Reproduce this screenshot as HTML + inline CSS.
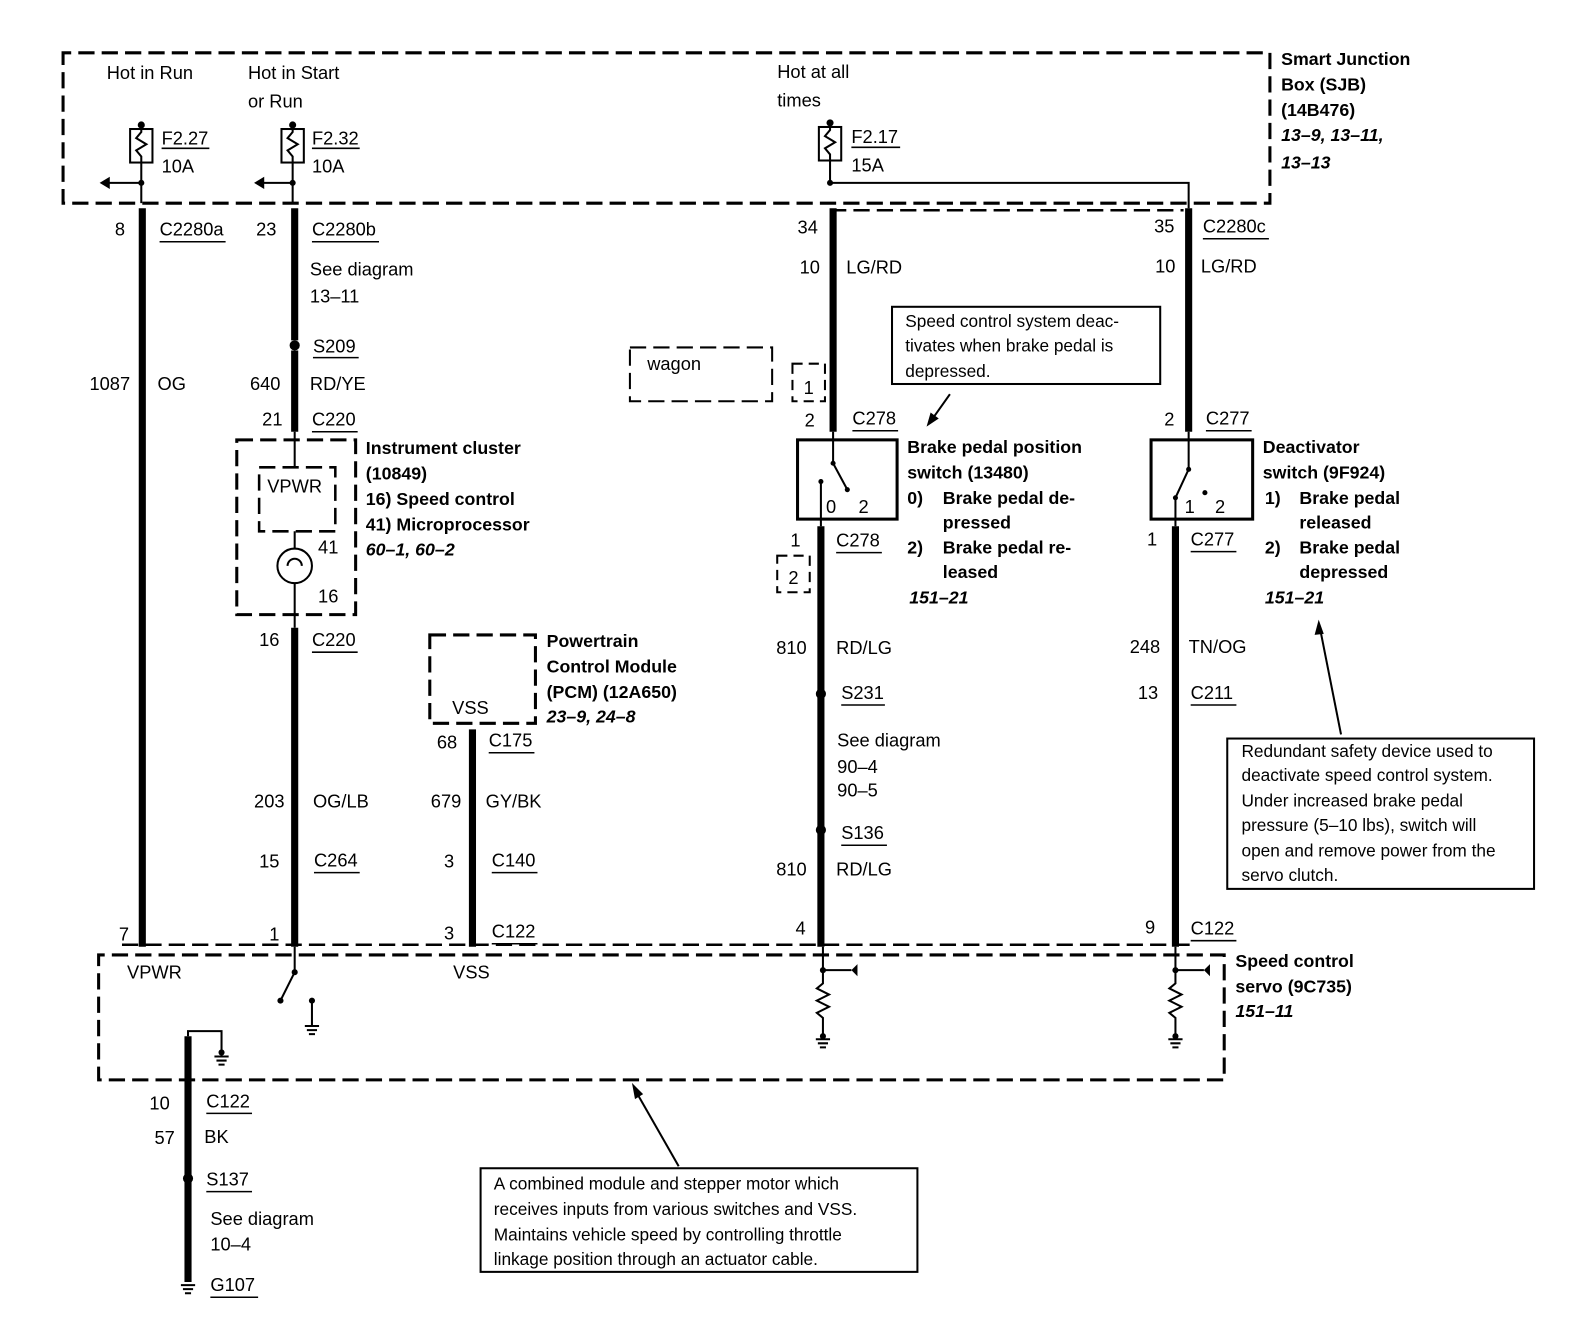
<!DOCTYPE html>
<html><head><meta charset="utf-8"><style>
html,body{margin:0;padding:0;background:#fff;}
svg{display:block}
text{font-family:"Liberation Sans",sans-serif;font-size:18px;fill:#000}
.b{font-weight:bold;font-size:17.5px}
.bi{font-weight:bold;font-style:italic;font-size:17.5px}
.d{fill:none;stroke:#000;stroke-width:3;stroke-dasharray:16 7}
.w{stroke:#000;stroke-width:7;fill:none}
.t{stroke:#000;stroke-width:2;fill:none}
.u{stroke:#000;stroke-width:1.5}
</style></head><body>
<svg width="1590" height="1344" viewBox="0 0 1565 1323" xmlns="http://www.w3.org/2000/svg">
<!-- SJB box -->
<path class="d" d="M62 60 L62 52 L1250 52 L1250 200 L62 200 Z"/>
<text x="105" y="78">Hot in Run</text>
<text x="244" y="78">Hot in Start</text>
<text x="244" y="106">or Run</text>
<text x="765" y="77">Hot at all</text>
<text x="765" y="105">times</text>
<text class="b" x="1261" y="64">Smart Junction</text>
<text class="b" x="1261" y="89">Box (SJB)</text>
<text class="b" x="1261" y="114">(14B476)</text>
<text class="bi" x="1261" y="139">13–9, 13–11,</text>
<text class="bi" x="1261" y="166">13–13</text>
<!-- fuses -->
<g class="t">
<rect x="128" y="127" width="22" height="33"/><path d="M139 122 V130 l-5 6 l10 6 l-10 6 l5 6 V200"/>
<rect x="277" y="127" width="22" height="33"/><path d="M288 122 V130 l-5 6 l10 6 l-10 6 l5 6 V200"/>
<rect x="806" y="125" width="22" height="33"/><path d="M817 120 V128 l-5 6 l10 6 l-10 6 l5 6 V180 H1170 V205"/>
<path d="M139 180 H104"/><path d="M288 180 H256"/>
</g>
<circle cx="139" cy="123" r="3.5"/><circle cx="288" cy="123" r="3.5"/><circle cx="817" cy="121" r="3.5"/>
<circle cx="139" cy="180" r="3"/><circle cx="288" cy="180" r="3"/><circle cx="817" cy="180" r="3"/>
<path d="M98 180 l10 -6 v12z"/><path d="M250 180 l10 -6 v12z"/>
<text x="159" y="142">F2.27</text><text x="159" y="170">10A</text>
<text x="307" y="142">F2.32</text><text x="307" y="170">10A</text>
<text x="838" y="141">F2.17</text><text x="838" y="169">15A</text>
<path class="u" d="M159 146h47M307 146h47M838 145h48"/>
<!-- dashed connector line under SJB right -->
<path class="d" d="M817 207 H1165" style="stroke-width:2.5"/>
<!-- wires -->
<path class="w" d="M140 205 V932"/>
<path class="w" d="M290 205 V335 M290 345 V425"/>
<path class="w" d="M290 618 V932"/>
<path class="w" d="M465 718 V932"/>
<path class="w" d="M820 205 V425"/>
<path class="w" d="M808 518 V932"/>
<path class="w" d="M1170 205 V425"/>
<path class="w" d="M1157 518 V932"/>
<path class="w" d="M185 1020 V1262"/>
<!-- splice dots -->
<circle cx="290" cy="340" r="5"/><circle cx="808" cy="683" r="5"/><circle cx="808" cy="817" r="5"/><circle cx="185" cy="1160" r="5"/>
<!-- labels left -->
<text x="113" y="232">8</text><text x="157" y="232">C2280a</text><path class="u" d="M157 238h65"/>
<text x="252" y="232">23</text><text x="307" y="232">C2280b</text><path class="u" d="M307 238h66"/>
<text x="305" y="271">See diagram</text><text x="305" y="298">13–11</text>
<text x="308" y="347">S209</text><path class="u" d="M308 352h45"/>
<text x="88" y="384">1087</text><text x="155" y="384">OG</text>
<text x="246" y="384">640</text><text x="305" y="384">RD/YE</text>
<text x="258" y="419">21</text><text x="307" y="419">C220</text><path class="u" d="M307 425h45"/>
<!-- instrument cluster -->
<path class="d" d="M233 433 H350 V605 H233 Z"/>
<path class="d" d="M255 460 H330 V523 H255 Z" style="stroke-width:2.5"/>
<text x="263" y="485">VPWR</text>
<path class="t" d="M290 425 V460 M290 523 V540 M290 574 V618"/>
<circle cx="290" cy="557" r="17" class="t"/>
<path class="t" d="M283 557 a7 7 0 1 1 14 0" />
<text x="313" y="545">41</text><text x="313" y="593">16</text>
<text class="b" x="360" y="447">Instrument cluster</text>
<text class="b" x="360" y="472">(10849)</text>
<text class="b" x="360" y="497">16) Speed control</text>
<text class="b" x="360" y="522">41) Microprocessor</text>
<text class="bi" x="360" y="547">60–1, 60–2</text>
<text x="255" y="636">16</text><text x="307" y="636">C220</text><path class="u" d="M307 642h45"/>
<!-- PCM -->
<path class="d" d="M423 625 H527 V712 H423 Z"/>
<text x="445" y="703">VSS</text>
<text class="b" x="538" y="637">Powertrain</text>
<text class="b" x="538" y="662">Control Module</text>
<text class="b" x="538" y="687">(PCM) (12A650)</text>
<text class="bi" x="538" y="711">23–9, 24–8</text>
<text x="430" y="737">68</text><text x="481" y="735">C175</text><path class="u" d="M481 741h45"/>
<text x="250" y="795">203</text><text x="308" y="795">OG/LB</text>
<text x="424" y="795">679</text><text x="478" y="795">GY/BK</text>
<text x="255" y="854">15</text><text x="309" y="853">C264</text><path class="u" d="M309 859h45"/>
<text x="437" y="854">3</text><text x="484" y="853">C140</text><path class="u" d="M484 859h45"/>
<text x="117" y="926">7</text><text x="265" y="926">1</text><text x="437" y="925">3</text>
<text x="484" y="923">C122</text><path class="u" d="M484 929h45"/>
<!-- wagon -->
<path class="d" d="M620 342 H760 V395 H620 Z" style="stroke-width:2"/>
<text x="637" y="364">wagon</text>
<path class="d" d="M780 358 H812 V395 H780 Z" style="stroke-width:2;stroke-dasharray:10 6"/>
<text x="791" y="388">1</text>
<path class="d" d="M765 547 H797 V583 H765 Z" style="stroke-width:2;stroke-dasharray:10 6"/>
<text x="776" y="575">2</text>
<!-- right labels -->
<text x="785" y="230">34</text><text x="1136" y="229">35</text>
<text x="1184" y="229">C2280c</text><path class="u" d="M1184 235h65"/>
<text x="787" y="269">10</text><text x="833" y="269">LG/RD</text>
<text x="1137" y="268">10</text><text x="1182" y="268">LG/RD</text>
<rect x="878" y="302" width="264" height="76" class="t"/>
<text x="891" y="322" style="font-size:17px">Speed control system deac-</text>
<text x="891" y="346" style="font-size:17px">tivates when brake pedal is</text>
<text x="891" y="371" style="font-size:17px">depressed.</text>
<path class="t" d="M935 388 L918 412"/><path d="M912 420 l4 -14 l8 6z"/>
<text x="792" y="420">2</text><text x="839" y="418">C278</text><path class="u" d="M839 424h45"/>
<text x="1146" y="419">2</text><text x="1187" y="418">C277</text><path class="u" d="M1187 424h45"/>
<!-- brake switch -->
<rect x="785" y="433" width="98" height="78" class="t" style="stroke-width:3"/>
<path class="t" d="M820 425 V456 L834 482 M808 474 V518"/>
<circle cx="820" cy="456" r="2.5"/><circle cx="834" cy="482" r="2.5"/><circle cx="808" cy="474" r="2.5"/>
<text x="813" y="505">0</text><text x="845" y="505">2</text>
<text class="b" x="893" y="446">Brake pedal position</text>
<text class="b" x="893" y="471">switch (13480)</text>
<text class="b" x="893" y="496">0)</text><text class="b" x="928" y="496">Brake pedal de-</text>
<text class="b" x="928" y="520">pressed</text>
<text class="b" x="893" y="545">2)</text><text class="b" x="928" y="545">Brake pedal re-</text>
<text class="b" x="928" y="569">leased</text>
<text class="bi" x="895" y="594">151–21</text>
<!-- deactivator -->
<rect x="1133" y="433" width="100" height="78" class="t" style="stroke-width:3"/>
<path class="t" d="M1170 425 V462 L1157 490 V518"/>
<circle cx="1170" cy="462" r="2.5"/><circle cx="1157" cy="490" r="2.5"/><circle cx="1186" cy="485" r="2.5"/>
<text x="1166" y="505">1</text><text x="1196" y="505">2</text>
<text class="b" x="1243" y="446">Deactivator</text>
<text class="b" x="1243" y="471">switch (9F924)</text>
<text class="b" x="1245" y="496">1)</text><text class="b" x="1279" y="496">Brake pedal</text>
<text class="b" x="1279" y="520">released</text>
<text class="b" x="1245" y="545">2)</text><text class="b" x="1279" y="545">Brake pedal</text>
<text class="b" x="1279" y="569">depressed</text>
<text class="bi" x="1245" y="594">151–21</text>
<text x="778" y="538">1</text><text x="823" y="538">C278</text><path class="u" d="M823 544h45"/>
<text x="1129" y="537">1</text><text x="1172" y="537">C277</text><path class="u" d="M1172 543h45"/>
<text x="764" y="644">810</text><text x="823" y="644">RD/LG</text>
<text x="1112" y="643">248</text><text x="1170" y="643">TN/OG</text>
<text x="828" y="688">S231</text><path class="u" d="M828 694h43"/>
<text x="1120" y="688">13</text><text x="1172" y="688">C211</text><path class="u" d="M1172 694h45"/>
<text x="824" y="735">See diagram</text><text x="824" y="761">90–4</text><text x="824" y="784">90–5</text>
<text x="828" y="826">S136</text><path class="u" d="M828 832h45"/>
<text x="764" y="862">810</text><text x="823" y="862">RD/LG</text>
<text x="783" y="920">4</text><text x="1127" y="919">9</text>
<text x="1172" y="920">C122</text><path class="u" d="M1172 926h45"/>
<rect x="1208" y="727" width="302" height="148" class="t"/>
<text x="1222" y="745" style="font-size:17px">Redundant safety device used to</text>
<text x="1222" y="769" style="font-size:17px">deactivate speed control system.</text>
<text x="1222" y="794" style="font-size:17px">Under increased brake pedal</text>
<text x="1222" y="818" style="font-size:17px">pressure (5–10 lbs), switch will</text>
<text x="1222" y="843" style="font-size:17px">open and remove power from the</text>
<text x="1222" y="867" style="font-size:17px">servo clutch.</text>
<path class="t" d="M1320 723 L1300 622"/><path d="M1298 610 l-4 15 l9 -1z"/>
<!-- servo box -->
<path class="d" d="M120 930 H1172" style="stroke-width:2.5"/>
<path class="d" d="M97 950 V940 H1205 V1063 H97 Z"/>
<text x="125" y="963">VPWR</text><text x="446" y="963">VSS</text>
<text class="b" x="1216" y="952">Speed control</text>
<text class="b" x="1216" y="977">servo (9C735)</text>
<text class="bi" x="1216" y="1001">151–11</text>
<path class="t" d="M290 932 V957 L276 985 M307 985 V1010"/>
<circle cx="290" cy="957" r="3"/><circle cx="276" cy="985" r="3"/><circle cx="307" cy="985" r="3"/>
<path class="t" d="M300 1010h14 M302 1014h10 M304 1018h6"/>
<path class="t" d="M185 1020 V1015 H218 V1040 M211 1040h14 M213 1044h10 M215 1048h6"/>
<circle cx="218" cy="1036" r="3"/>
<g class="t">
<path d="M810 932 V955 H838 M810 955 V968 l-6 5 l12 6 l-12 6 l12 6 l-12 6 l6 5 V1020"/>
<path d="M1157 932 V955 H1185 M1157 955 V968 l-6 5 l12 6 l-12 6 l12 6 l-12 6 l6 5 V1020"/>
<path d="M803 1023h14 M805 1027h10 M807 1031h6 M1150 1023h14 M1152 1027h10 M1154 1031h6"/>
</g>
<circle cx="810" cy="955" r="3"/><circle cx="1157" cy="955" r="3"/><circle cx="810" cy="1020" r="3"/><circle cx="1157" cy="1020" r="3"/>
<path d="M838 955 l6 -6 v12z"/><path d="M1185 955 l6 -6 v12z"/>
<!-- ground wire -->
<text x="147" y="1092">10</text><text x="203" y="1090">C122</text><path class="u" d="M203 1096h45"/>
<text x="152" y="1126">57</text><text x="201" y="1125">BK</text>
<text x="203" y="1167">S137</text><path class="u" d="M203 1173h45"/>
<text x="207" y="1206">See diagram</text><text x="207" y="1231">10–4</text>
<path class="t" d="M178 1265h14 M180 1269h10 M182 1273h6"/>
<text x="207" y="1271">G107</text><path class="u" d="M207 1277h47"/>
<rect x="473" y="1150" width="430" height="102" class="t"/>
<text x="486" y="1171" style="font-size:17px">A combined module and stepper motor which</text>
<text x="486" y="1196" style="font-size:17px">receives inputs from various switches and VSS.</text>
<text x="486" y="1221" style="font-size:17px">Maintains vehicle speed by controlling throttle</text>
<text x="486" y="1245" style="font-size:17px">linkage position through an actuator cable.</text>
<path class="t" d="M668 1148 L628 1078"/><path d="M622 1066 l3 16 l8 -5z"/>
</svg>
</body></html>
